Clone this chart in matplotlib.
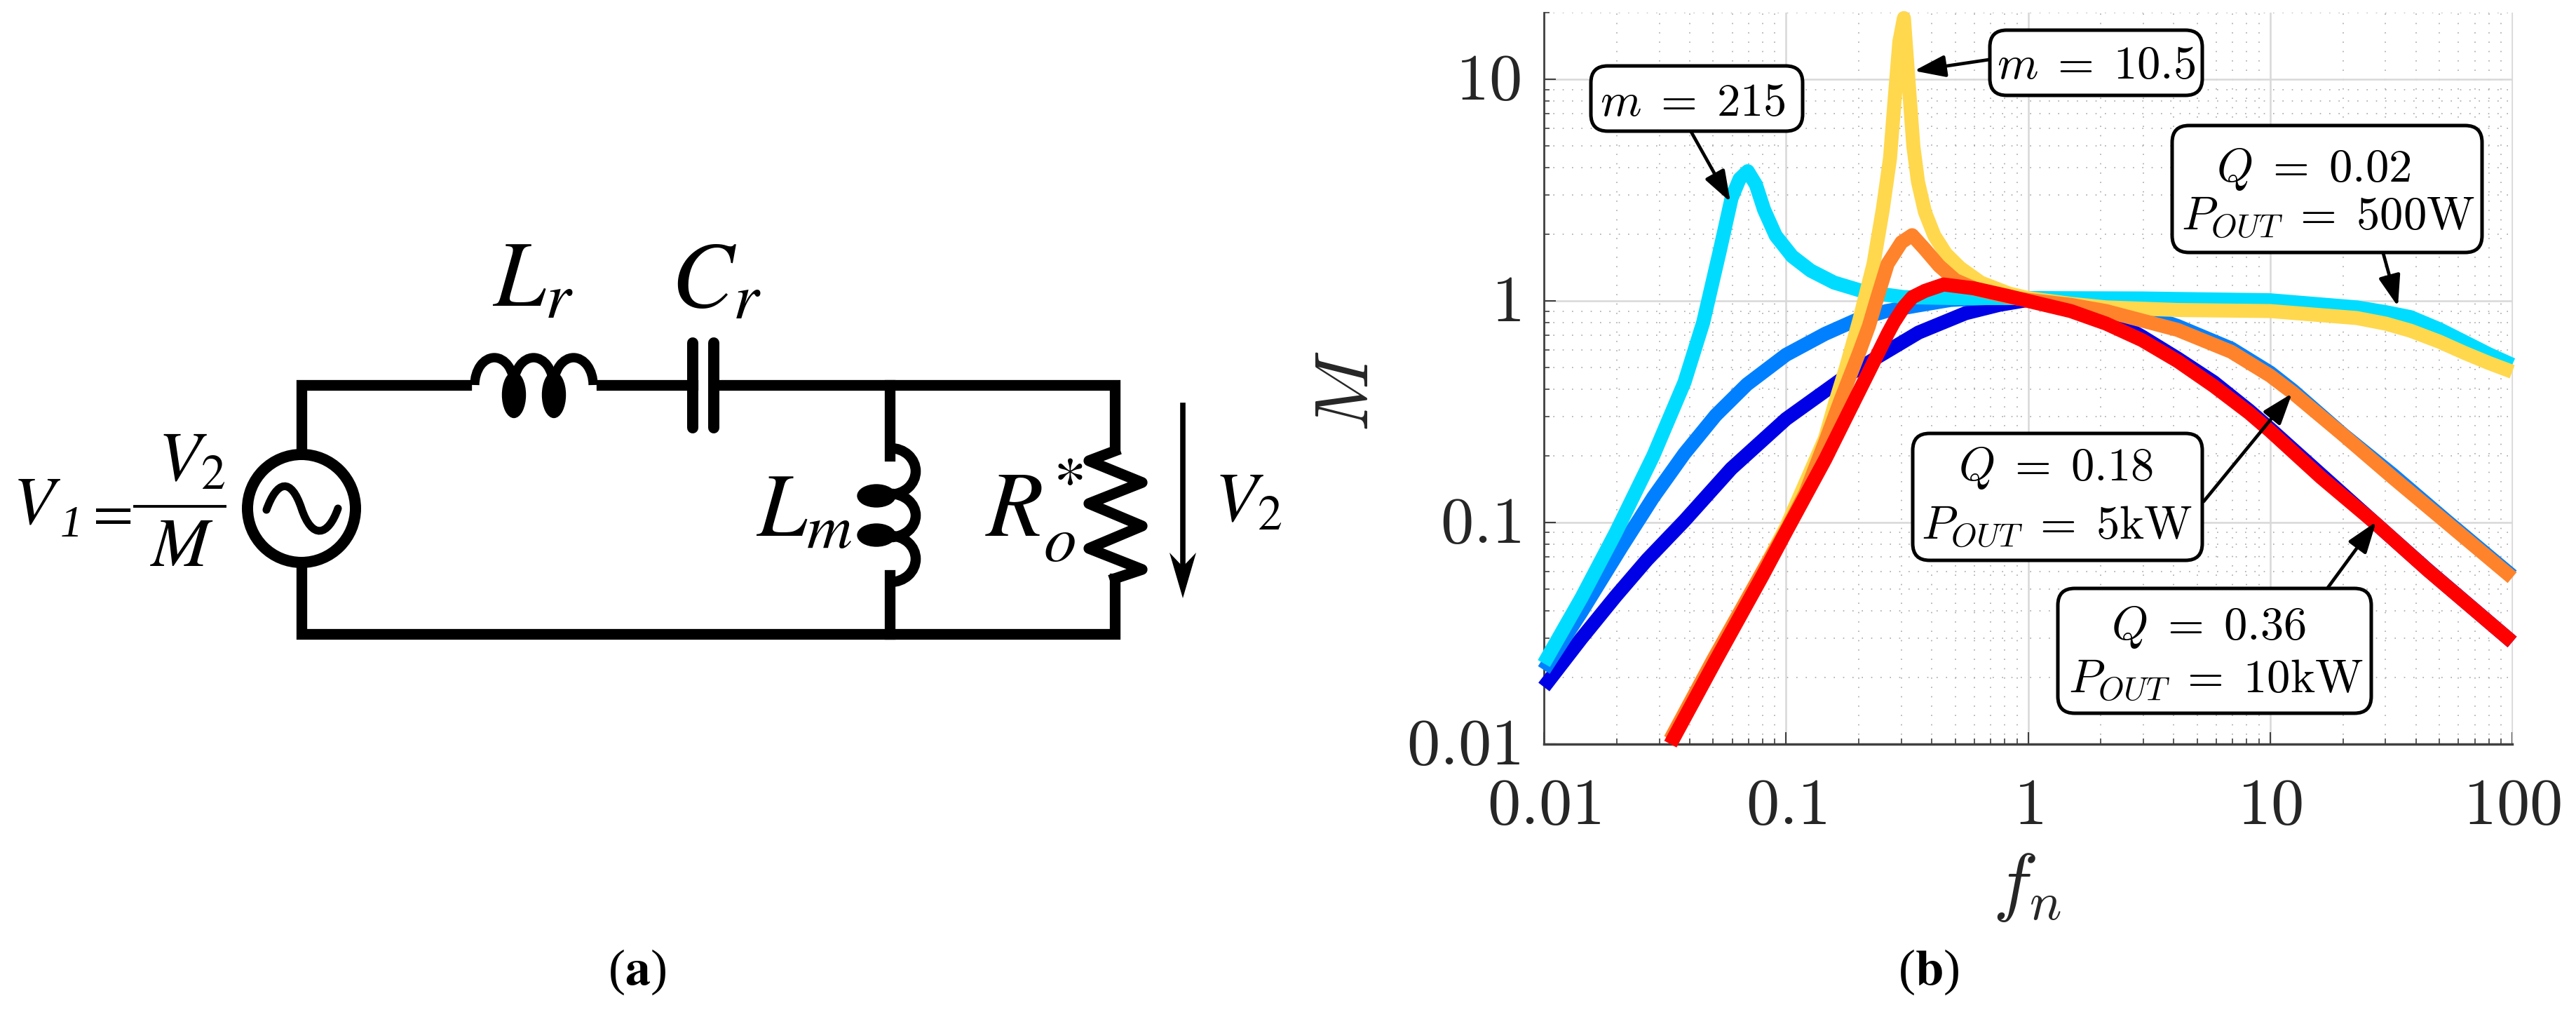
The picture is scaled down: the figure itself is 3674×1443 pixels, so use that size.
#!/usr/bin/env python
import matplotlib
matplotlib.use('Agg')
import matplotlib.pyplot as plt
from matplotlib.patches import Arc, Circle, Ellipse, FancyBboxPatch, PathPatch, Polygon
from matplotlib.path import Path
from matplotlib.transforms import ScaledTranslation

W, H = 3674, 1443
plt.rcParams['mathtext.fontset'] = 'cm'

# curves
f_darkblue = [0.01, 0.01429, 0.0198, 0.0267, 0.0381, 0.0594, 0.1, 0.168, 0.24, 0.353, 0.552, 0.76, 1, 1.5, 2.1, 2.96, 4.15, 5.85, 8.2, 10, 16.2, 27, 44.9, 100]
M_darkblue = [0.0181, 0.03, 0.0465, 0.068, 0.102, 0.175, 0.293, 0.44, 0.56, 0.72, 0.88, 0.96, 1.01, 0.97, 0.85, 0.69, 0.55, 0.43, 0.32, 0.265, 0.165, 0.1, 0.061, 0.0289]

f_midblue = [0.01, 0.0143, 0.021, 0.0283, 0.0381, 0.0513, 0.069, 0.1, 0.145, 0.197, 0.26, 0.343, 0.478, 0.67, 1, 1.5, 2.1, 3, 4.15, 6.9, 10, 12.4, 20, 32, 53.5, 100]
M_midblue = [0.0216, 0.0395, 0.078, 0.13, 0.205, 0.305, 0.42, 0.571, 0.71, 0.824, 0.9, 0.95, 1.01, 1.03, 1.03, 1.02, 0.97, 0.87, 0.77, 0.61, 0.475, 0.395, 0.25, 0.165, 0.102, 0.0575]

f_cyan = [0.01, 0.0143, 0.0198, 0.0283, 0.0381, 0.0455, 0.0532, 0.0596, 0.0643, 0.0695, 0.0751, 0.0812, 0.0907, 0.106, 0.1265, 0.158, 0.211, 0.307, 0.5, 1, 2.95, 10, 22.8, 30, 38, 50, 63, 80, 100]
M_cyan = [0.0231, 0.0458, 0.09, 0.2, 0.43, 0.8, 1.67, 2.91, 3.55, 3.85, 3.35, 2.58, 1.97, 1.59, 1.37, 1.21, 1.1, 1.04, 1.03, 1.03, 1.026, 1.007, 0.935, 0.89, 0.845, 0.745, 0.656, 0.575, 0.515]

f_yellow = [0.0333, 0.05, 0.08, 0.1, 0.145, 0.16, 0.177, 0.201, 0.23, 0.251, 0.269, 0.281, 0.294, 0.307, 0.325, 0.336, 0.351, 0.375, 0.41, 0.458, 0.524, 0.638, 0.834, 1, 1.5, 2.1, 4.15, 10, 22.8, 30, 38, 50, 63, 80, 100]
M_yellow = [0.0105, 0.024, 0.06, 0.095, 0.24, 0.35, 0.5, 0.82, 1.47, 2.58, 4.4, 8.07, 14.8, 18.9, 8.07, 4.97, 3.45, 2.52, 1.97, 1.63, 1.41, 1.21, 1.08, 1.03, 0.97, 0.935, 0.91, 0.9, 0.837, 0.79, 0.734, 0.655, 0.585, 0.525, 0.479]

f_orange = [0.0333, 0.05, 0.08, 0.1, 0.12, 0.145, 0.168, 0.2, 0.22, 0.236, 0.263, 0.3, 0.332, 0.375, 0.429, 0.501, 0.611, 0.834, 1, 1.5, 2.1, 4.15, 6.9, 10, 12.4, 19.9, 32, 53.5, 100]
M_orange = [0.0105, 0.024, 0.06, 0.092, 0.135, 0.23, 0.356, 0.58, 0.77, 1.0, 1.47, 1.84, 1.98, 1.71, 1.44, 1.24, 1.13, 1.04, 1.01, 0.96, 0.9, 0.74, 0.59, 0.46, 0.385, 0.25, 0.16, 0.1, 0.0564]

f_red = [0.0333, 0.0513, 0.08, 0.1, 0.145, 0.195, 0.24, 0.263, 0.279, 0.307, 0.333, 0.375, 0.448, 0.597, 0.834, 1, 1.5, 2.1, 2.96, 4.15, 5.85, 8.2, 10, 16.2, 27, 44.9, 100]
M_red = [0.01, 0.0239, 0.0575, 0.0908, 0.192, 0.368, 0.58, 0.71, 0.8, 0.94, 1.04, 1.11, 1.186, 1.14, 1.05, 1.0, 0.9, 0.79, 0.665, 0.535, 0.413, 0.312, 0.259, 0.16, 0.1, 0.0608, 0.0289]

series = [
    (f_darkblue, M_darkblue, '#0000e6'),
    (f_midblue, M_midblue, '#0080ff'),
    (f_cyan, M_cyan, '#00dcff'),
    (f_yellow, M_yellow, '#ffd84d'),
    (f_orange, M_orange, '#ff832b'),
    (f_red, M_red, '#ff0000'),
]

x_ticks = [0.01, 0.1, 1, 10, 100]
x_labels = ['$0.01$', '$0.1$', '$1$', '$10$', '$100$']
y_ticks = [0.01, 0.1, 1, 10]
y_labels = ['$0.01$', '$0.1$', '$1$', '$10$']

# callouts: box (x0, y0, x1, y1), lines (text, x centre, baseline), arrow start, arrow tip
callouts = [
    ((2269, 94, 2571, 187), [(r'$m\;=\;215$', 2414, 165)], (2412, 188), (2468, 288)),
    ((2838, 43, 3141, 136), [(r'$m\;=\;10.5$', 2990, 112)], (2837, 85), (2730, 101)),
    ((3098, 179, 3540, 360), [(r'$Q\;=\;0.02$', 3300, 259), (r'$P_{OUT}\;=\;500\mathrm{W}$', 3320, 328)], (3399, 361), (3420, 437)),
    ((2728, 618, 3141, 799), [(r'$Q\;=\;0.18$', 2932, 685), (r'$P_{OUT}\;=\;5\mathrm{kW}$', 2934, 769)], (3143, 715), (3269, 561)),
    ((2935, 839, 3382, 1017), [(r'$Q\;=\;0.36$', 3150, 912), (r'$P_{OUT}\;=\;10\mathrm{kW}$', 3160, 988)], (3320, 838), (3389, 744)),
]

fig = plt.figure(figsize=(W / 100, H / 100), dpi=100)

# chart (b)
ax = fig.add_axes([2202 / W, 1 - 1061 / H, 1381 / W, 1043 / H])
for f, m, col in series:
    ax.plot(f, m, color=col, lw=14.4, solid_joinstyle='round', solid_capstyle='butt', clip_on=False, zorder=3)
ax.set_xscale('log')
ax.set_yscale('log')
ax.set_xlim(0.01, 100)
ax.set_ylim(0.01, 20)
ax.set_xticks(x_ticks)
ax.set_xticklabels(x_labels)
ax.set_yticks(y_ticks)
ax.set_yticklabels(y_labels)
ax.tick_params(which='major', direction='in', length=12, width=1.5, color='#404040',
               labelsize=68, labelcolor='#262626')
ax.tick_params(which='minor', direction='in', length=6, width=1.2, color='#404040')
ax.tick_params(axis='x', pad=30)
ax.tick_params(axis='y', pad=24)
for lbl in ax.get_yticklabels():
    lbl.set_transform(lbl.get_transform() + ScaledTranslation(0, 5 / 72, fig.dpi_scale_trans))
ax.grid(True, which='major', color='#d8d8d8', lw=1.8)
ax.grid(True, which='minor', color='#a8a8a8', lw=1.2, ls=(0, (1, 7)))
ax.set_axisbelow(True)
ax.spines['top'].set_visible(False)
ax.spines['right'].set_color('#d8d8d8')
ax.spines['left'].set_color('#404040')
ax.spines['bottom'].set_color('#404040')
ax.spines['left'].set_linewidth(2)
ax.spines['bottom'].set_linewidth(2.5)

# overlay in image pixels for the circuit, callouts and captions
ov = fig.add_axes([0, 0, 1, 1], facecolor='none')
ov.set_xlim(0, W)
ov.set_ylim(H, 0)
ov.axis('off')

ov.text(1921, 558, '$M$', fontsize=78, rotation=90, ha='center', va='center', color='#262626')
ov.text(2891, 1264, '$f_n$', fontsize=78, ha='center', va='center', color='#262626')

for (x0, y0, x1, y1), lines, start, tip in callouts:
    ov.add_patch(FancyBboxPatch((x0, y0), x1 - x0, y1 - y0, boxstyle='round,pad=0,rounding_size=24',
                                fc='white', ec='black', lw=3.6, zorder=5))
    for txt, xc, base in lines:
        ov.text(xc, base, txt, fontsize=48, ha='center', va='baseline', zorder=6)
    ov.annotate('', xy=tip, xytext=start, zorder=7,
                arrowprops=dict(arrowstyle='-|>,head_length=2.7,head_width=0.95', mutation_scale=10,
                                color='black', lw=3.4, shrinkA=0, shrinkB=0))

# circuit (a)
wire = dict(color='black', lw=11, solid_capstyle='projecting', solid_joinstyle='miter')
ov.plot([665, 430, 430], [549, 549, 640], **wire)
ov.plot([430, 430, 1590, 1590], [806, 904, 904, 825], **wire)
ov.plot([858, 988], [549, 549], **wire)
ov.plot([1018, 1590, 1590], [549, 549, 640], **wire)
ov.plot([1269, 1269], [549, 650], **wire)
ov.plot([1269, 1269], [820, 904], **wire)

ov.add_patch(Circle((430, 725), 77, fc='white', ec='black', lw=11.5))
ov.add_patch(PathPatch(Path([(380, 727), (395, 685), (415, 680), (430, 725),
                             (445, 770), (468, 765), (482, 725)],
                            [Path.MOVETO] + [Path.CURVE4] * 6),
                       fc='none', ec='black', lw=8, capstyle='round'))

# series inductor
for xc in (705, 761, 818):
    ov.add_patch(Arc((xc, 549), 56, 78, theta1=180, theta2=360, color='black', lw=9.6))
for xc in (733, 790):
    ov.add_patch(Ellipse((xc, 563), 33, 65, color='black'))

# capacitor
ov.plot([988, 988], [489, 610], color='black', lw=11.5, solid_capstyle='round')
ov.plot([1018, 1018], [489, 610], color='black', lw=11.5, solid_capstyle='round')

# magnetising inductor
for yc, h in ((672, 66), (735, 62), (797, 66)):
    ov.add_patch(Arc((1270, yc), 72, h, theta1=-90, theta2=90, color='black', lw=10.5))
for yc in (707, 763):
    ov.add_patch(Ellipse((1250, yc), 54, 32, color='black'))

# load resistor
res_x = [1590, 1553, 1629, 1553, 1629, 1553, 1629, 1590]
res_y = [643, 657, 688, 718, 750, 782, 812, 825]
ov.plot(res_x, res_y, color='black', lw=11, solid_joinstyle='round')

# V2 arrow
ov.plot([1687, 1687], [578, 812], color='black', lw=5.5)
ov.add_patch(Polygon([(1687, 853), (1668, 788), (1687, 808), (1706, 788)], closed=True, fc='black', ec='none'))


def label(x, y, s, size=96):
    ov.text(x, y, s, fontsize=size, math_fontfamily='stix', ha='left', va='baseline', color='black')


label(702, 436, r'$L_{r}$')
label(957, 437, r'$C_{r}$')
label(1078, 765, r'$L_{m}$', 92)
label(1405, 765, r'$R_{o}^{*}$')
label(18, 747, '$V$', 70)
ov.text(86, 765, '1', fontsize=46, family='Liberation Serif', style='italic', ha='left', va='baseline')
label(120, 755, '$=$', 60)
ov.plot([192, 321], [722, 722], color='black', lw=2.8)
label(225, 685, r'$V_{2}$', 72)
label(214, 807, '$M$', 72)
label(1732, 743, r'$V_{2}$', 72)

# captions
for x, ch in ((909, 'a'), (2751, 'b')):
    ov.text(x, 1386, '(' + r'$\mathbf{' + ch + '}$' + ')', fontsize=52, ha='center', va='center',
            family='Liberation Serif', math_fontfamily='stix', color='black')

plt.savefig('out.png', dpi=100)
